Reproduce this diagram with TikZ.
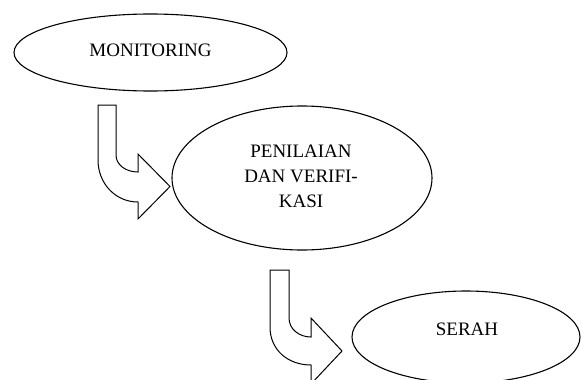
\documentclass[tikz,border=0pt]{standalone}
\usepackage{fontspec}
\setmainfont{Liberation Serif}
\usetikzlibrary{shapes.geometric}
\begin{document}
\begin{tikzpicture}[x=1pt,y=-1pt,
  ell/.style={draw,line width=1.1pt,ellipse,inner sep=0pt},
  lbl/.style={font=\fontsize{19}{25}\selectfont,align=center,inner sep=0pt},
  bentarrow/.style={draw,line width=1pt,line join=miter,fill=white}]
\useasboundingbox (0,0) rectangle (581,380);
% ellipses
\node[ell,minimum width=273pt,minimum height=77pt] (mon) at (150.5,52.5) {};
\node[ell,minimum width=260pt,minimum height=144pt] (pen) at (302,178) {};
\node[ell,minimum width=228pt,minimum height=92pt] (ser) at (466,337) {};
% labels
\node[lbl,anchor=base] (monT) at (150.5,56) {MONITORING};
\node[lbl,anchor=base] (penT) at (301,207) {PENILAIAN\\DAN VERIFI-\\KASI};
\node[lbl,anchor=base] (serT) at (467,335) {SERAH};
% bent arrow 1
\draw[bentarrow] (98,105) -- (116,105) -- (116,155)
  .. controls (116,165) and (126,172) .. (138,172)
  -- (138,154) -- (170,186.5) -- (138,219) -- (138,202)
  .. controls (115,202) and (98,183) .. (98,160) -- cycle;
% bent arrow 2
\draw[bentarrow] (270,270) -- (289,270) -- (289,318)
  .. controls (289,329) and (299,337) .. (311,337)
  -- (311,318) -- (342,351) -- (311,384) -- (311,365)
  .. controls (288,365) and (270,350) .. (270,327) -- cycle;
\end{tikzpicture}
\end{document}
